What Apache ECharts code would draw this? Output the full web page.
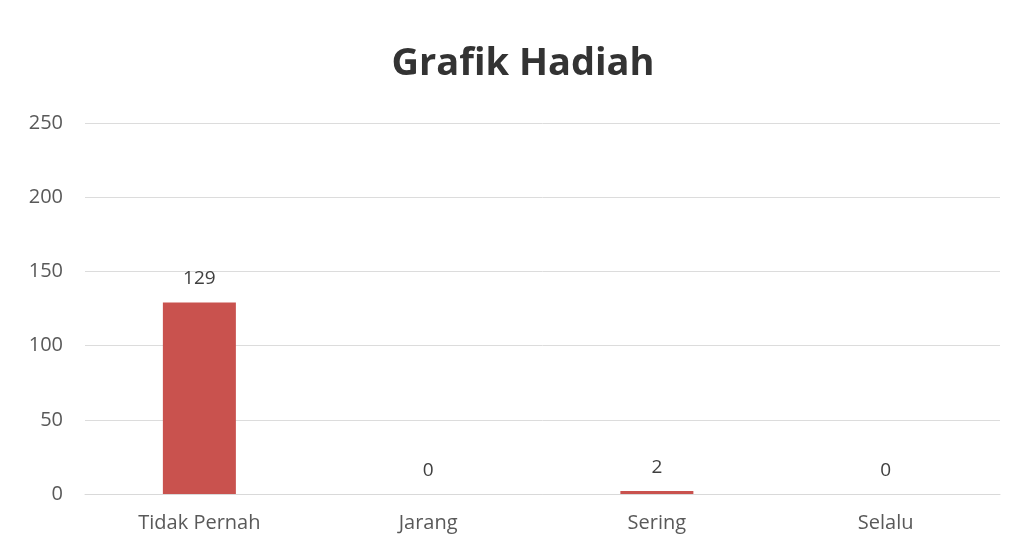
<!DOCTYPE html>
<html><head><meta charset="utf-8">
<script src="https://cdn.jsdelivr.net/npm/echarts@6/dist/echarts.min.js"></script>
<style>html,body{margin:0;padding:0;background:#fff}#c{width:1017px;height:550px}</style>
</head><body><div id="c"></div>
<script>
const categories = ["Tidak Pernah", "Jarang", "Sering", "Selalu"];
const values = [129, 0, 2, 0];
const yTicks = [0, 50, 100, 150, 200, 250];

const chart = echarts.init(document.getElementById('c'));
chart.setOption({
  animation: false,
  backgroundColor: '#ffffff',
  title: {
    text: 'Grafik Hadiah', left: 518, textAlign: 'center', top: 40,
    textStyle: { fontFamily: 'Open Sans', fontWeight: 'bold', fontSize: 38, color: '#333333' }
  },
  grid: { left: 85, right: 17, top: 123, bottom: 56 },
  xAxis: {
    type: 'category', data: categories,
    axisLine: { show: true, lineStyle: { color: '#d9d9d9' } },
    axisTick: { show: false },
    axisLabel: { fontFamily: 'Open Sans', fontSize: 20, color: '#595959', margin: 19 }
  },
  yAxis: {
    type: 'value', min: yTicks[0], max: yTicks[yTicks.length - 1], interval: 50,
    axisLine: { show: false }, axisTick: { show: false },
    axisLabel: { fontFamily: 'Open Sans', fontSize: 20, color: '#595959', margin: 22 },
    splitLine: { lineStyle: { color: '#dcdcdc', width: 1 } }
  },
  series: [{
    type: 'bar', data: values, barWidth: 73,
    itemStyle: { color: '#c9524e' },
    label: { show: true, position: 'top', distance: 14, fontFamily: 'Open Sans', fontSize: 19, color: '#404040' }
  }]
});
</script></body></html>
